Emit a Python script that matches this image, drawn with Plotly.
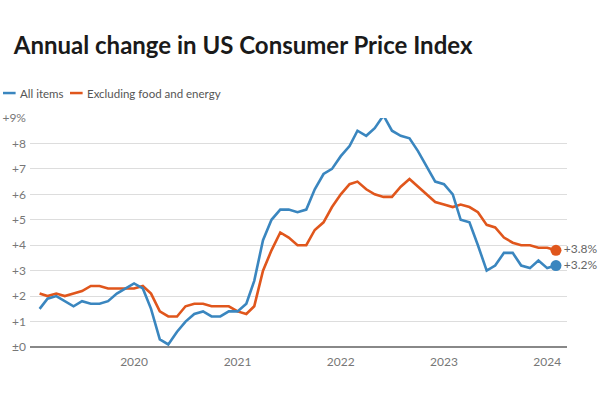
import plotly.graph_objects as go
import pandas as pd

months = pd.date_range("2019-02-01", "2024-02-01", freq="MS")

all_items = [
    1.5, 1.9, 2.0, 1.8, 1.6, 1.8, 1.7, 1.7, 1.8, 2.1, 2.3,
    2.5, 2.3, 1.5, 0.3, 0.1, 0.6, 1.0, 1.3, 1.4, 1.2, 1.2, 1.4,
    1.4, 1.7, 2.6, 4.2, 5.0, 5.4, 5.4, 5.3, 5.4, 6.2, 6.8, 7.0,
    7.5, 7.9, 8.5, 8.3, 8.6, 9.1, 8.5, 8.3, 8.2, 7.7, 7.1, 6.5,
    6.4, 6.0, 5.0, 4.9, 4.0, 3.0, 3.2, 3.7, 3.7, 3.2, 3.1, 3.4,
    3.1, 3.2,
]
core = [
    2.1, 2.0, 2.1, 2.0, 2.1, 2.2, 2.4, 2.4, 2.3, 2.3, 2.3,
    2.3, 2.4, 2.1, 1.4, 1.2, 1.2, 1.6, 1.7, 1.7, 1.6, 1.6, 1.6,
    1.4, 1.3, 1.6, 3.0, 3.8, 4.5, 4.3, 4.0, 4.0, 4.6, 4.9, 5.5,
    6.0, 6.4, 6.5, 6.2, 6.0, 5.9, 5.9, 6.3, 6.6, 6.3, 6.0, 5.7,
    5.6, 5.5, 5.6, 5.5, 5.3, 4.8, 4.7, 4.3, 4.1, 4.0, 4.0, 3.9,
    3.9, 3.8,
]

series_names = ["All items", "Excluding food and energy"]
y_tickvals = [0, 1, 2, 3, 4, 5, 6, 7, 8, 9]
y_ticktext = ["±0", "+1", "+2", "+3", "+4", "+5", "+6", "+7", "+8", "+9%"]
x_tickvals = ["2020-01-01", "2021-01-01", "2022-01-01", "2023-01-01", "2024-01-01"]
x_ticktext = ["2020", "2021", "2022", "2023", "2024"]

BLUE = "#3a86bf"
ORANGE = "#e0561c"
FONT = "Lato"

fig = go.Figure()
for vals, color in [(core, ORANGE), (all_items, BLUE)]:
    fig.add_trace(go.Scatter(
        x=months, y=vals, mode="lines",
        line=dict(color=color, width=2.6),
        showlegend=False, hoverinfo="skip",
    ))
    fig.add_trace(go.Scatter(
        x=[months[-1]], y=[vals[-1]], mode="markers+text",
        marker=dict(color=color, size=11),
        text=[f"+{vals[-1]:.1f}%"], textposition="middle right",
        textfont=dict(family=FONT, size=12, color="#666666"),
        showlegend=False, hoverinfo="skip", cliponaxis=False,
    ))

# Manual legend (short line samples); paper coords relative to plot area
legend_items = [(series_names[0], BLUE, -0.0503), (series_names[1], ORANGE, 0.0745)]
for name, color, x0 in legend_items:
    fig.add_shape(type="line", xref="paper", yref="paper",
                  x0=x0, x1=x0 + 0.0235, y0=1.109, y1=1.109,
                  line=dict(color=color, width=2.5))
    fig.add_annotation(text=name, xref="paper", yref="paper",
                       x=x0 + 0.028, y=1.109, xanchor="left", yanchor="middle",
                       showarrow=False,
                       font=dict(family=FONT, size=11.5, color="#555555"))

fig.update_layout(
    width=600, height=400,
    margin=dict(l=30, r=33, t=118, b=53),
    paper_bgcolor="white", plot_bgcolor="white",
    title=dict(text="<b>Annual change in US Consumer Price Index</b>",
               x=0.023, xanchor="left", y=0.887, yanchor="middle",
               font=dict(family=FONT, size=24, color="#1a1a1a")),
    xaxis=dict(
        range=["2018-12-29", "2024-03-11"],
        tickvals=x_tickvals, ticktext=x_ticktext, automargin=False,
        showgrid=False, zeroline=False, showline=False, ticks="",
        ticklabelstandoff=6,
        tickfont=dict(family=FONT, size=12, color="#777777"),
    ),
    yaxis=dict(
        range=[0, 9], tickvals=y_tickvals, ticktext=y_ticktext,
        automargin=False,
        showgrid=True, gridcolor="#dddddd", gridwidth=1,
        zeroline=True, zerolinecolor="#888888", zerolinewidth=1.5,
        ticks="", ticklabelstandoff=3,
        tickfont=dict(family=FONT, size=12, color="#777777"),
    ),
)

fig.write_html("out.html")
